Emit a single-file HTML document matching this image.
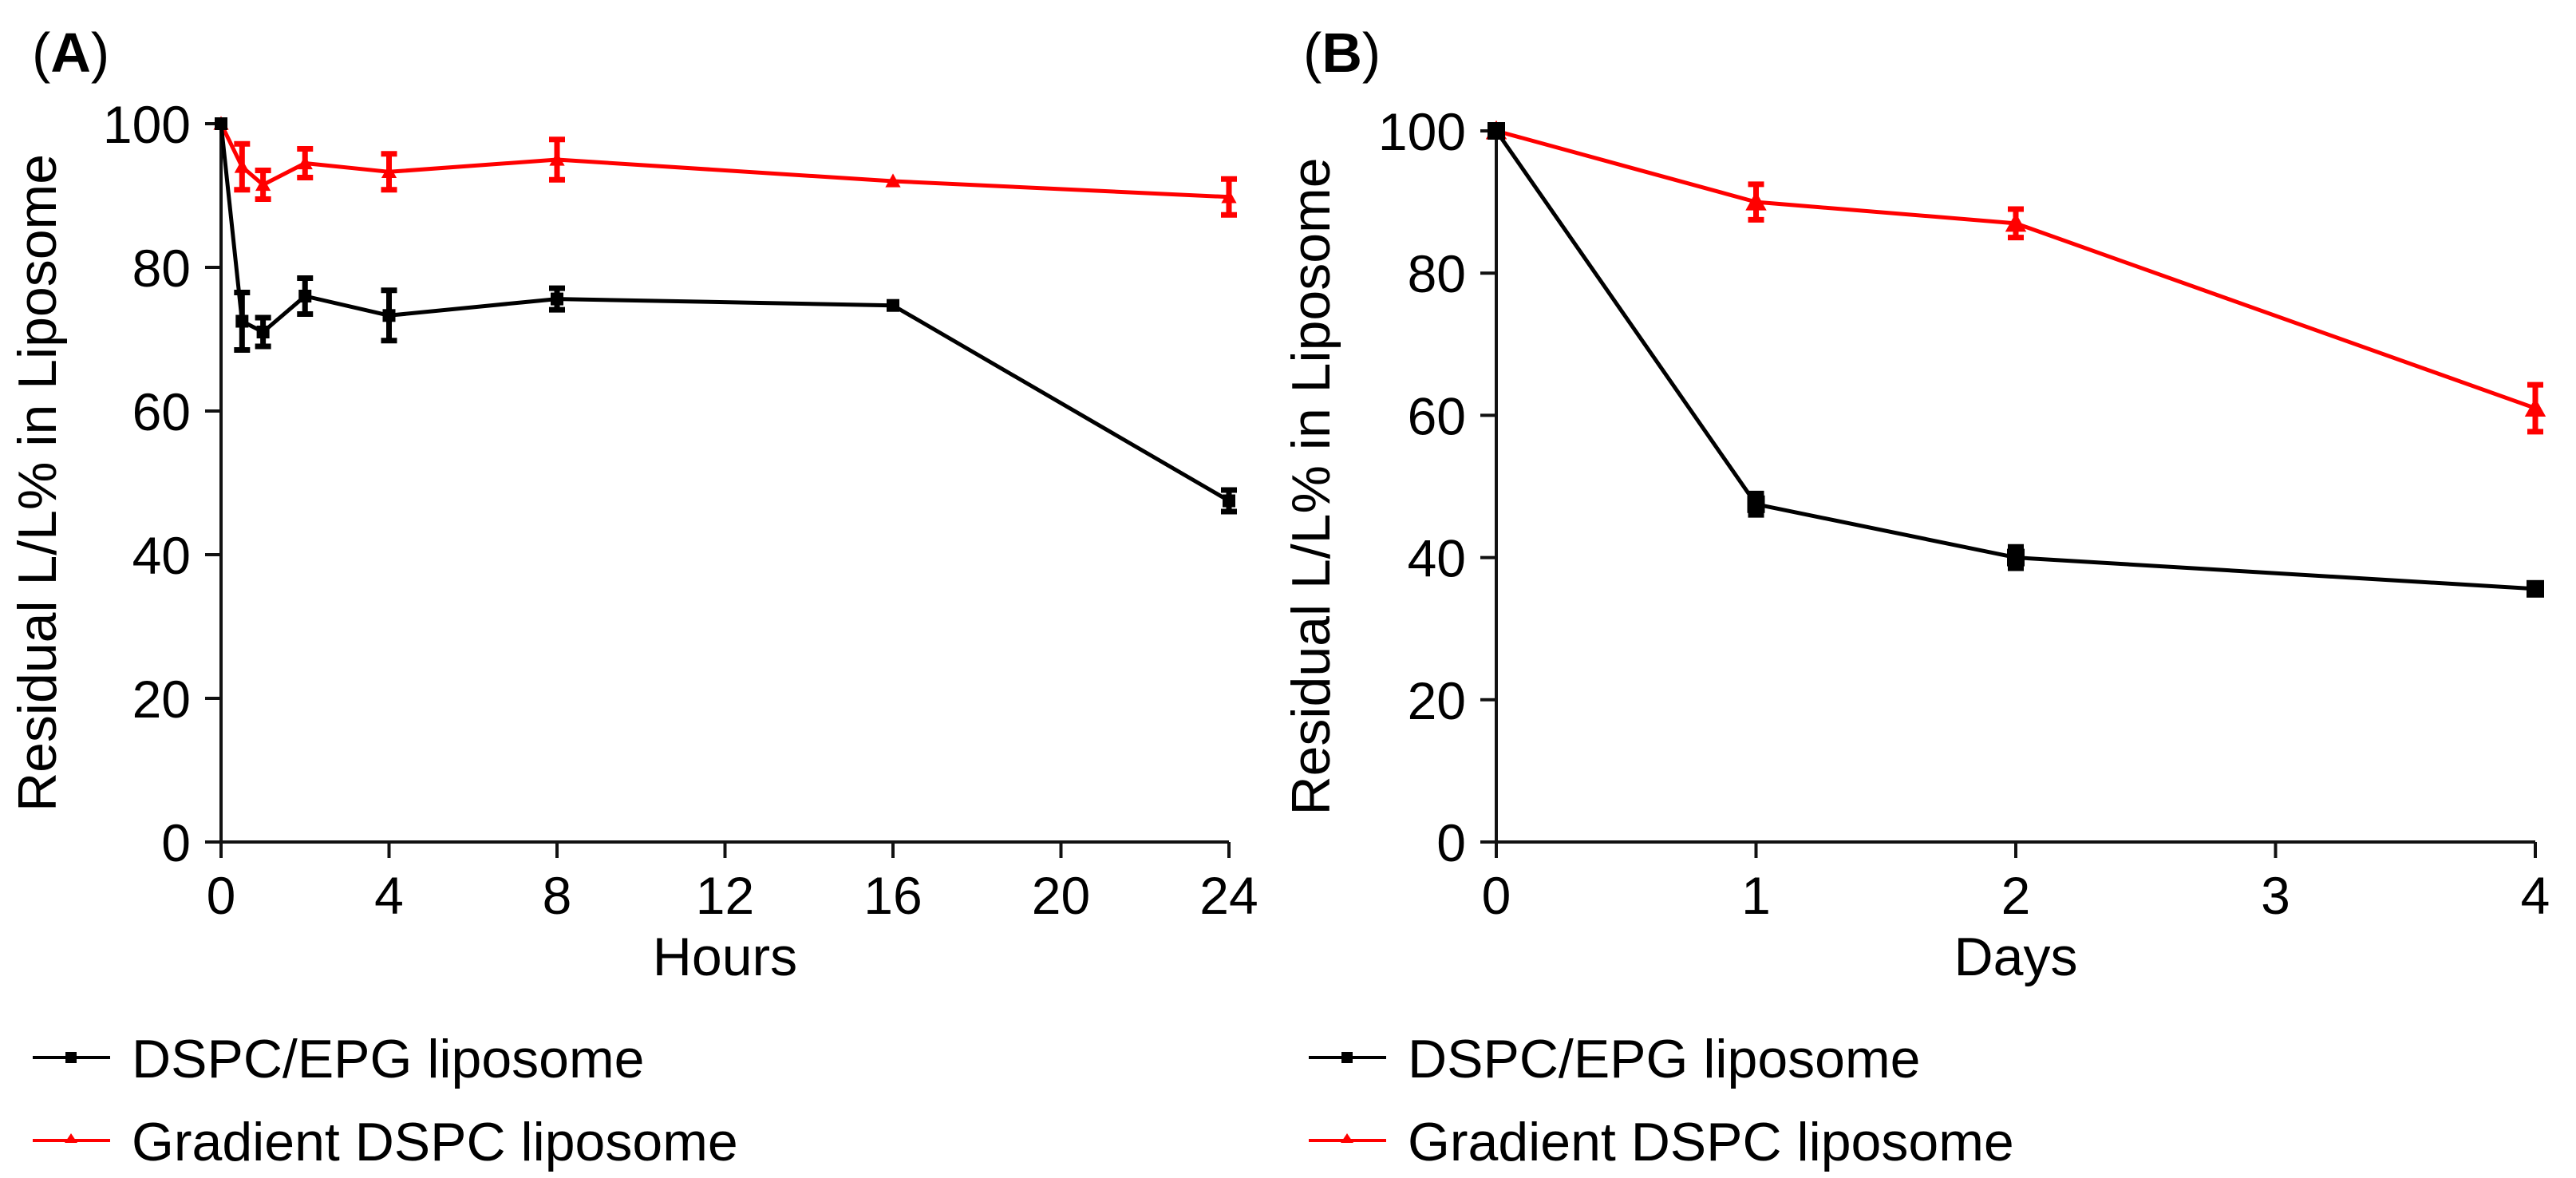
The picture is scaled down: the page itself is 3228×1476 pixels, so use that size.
<!DOCTYPE html>
<html><head><meta charset="utf-8"><style>
html,body{margin:0;padding:0;background:#fff;}
svg{display:block;font-family:"Liberation Sans",Arial,sans-serif;}
</style></head><body>
<svg id="fig" width="3228" height="1476" viewBox="0 0 3228 1476" xmlns="http://www.w3.org/2000/svg"></svg>
<script>
// Panel A data (hours)
const hoursA = [0, 0.5, 1, 2, 4, 8, 16, 24];
const blackA = [100, 72.5, 71, 76, 73.3, 75.6, 74.7, 47.5];
const blackErrA = [0, 4, 2, 2.5, 3.5, 1.5, 0.3, 1.5];
const redA = [100, 94, 91.5, 94.5, 93.3, 95, 92, 89.8];
const redErrA = [0, 3.2, 2, 2, 2.5, 2.8, 0, 2.5];
const xTicksA = [0, 4, 8, 12, 16, 20, 24];
// Panel B data (days)
const daysB = [0, 1, 2, 4];
const blackB = [100, 47.5, 40, 35.6];
const blackErrB = [0, 1.5, 1.5, 0.5];
const redB = [100, 90, 87, 61];
const redErrB = [0, 2.5, 2, 3.3];
const xTicksB = [0, 1, 2, 3, 4];
const yTicks = [0, 20, 40, 60, 80, 100];

const NS = "http://www.w3.org/2000/svg";
const svg = document.getElementById('fig');
function mk(tag, attrs, parent, text) {
  const e = document.createElementNS(NS, tag);
  for (const k in attrs) e.setAttribute(k, attrs[k]);
  if (text !== undefined) e.textContent = text;
  (parent || svg).appendChild(e);
  return e;
}

function panel(cfg) {
  const g = mk('g', {});
  
  
  const X = v => cfg.x0 + (v - cfg.xmin) / (cfg.xmax - cfg.xmin) * (cfg.x1 - cfg.x0);
  const Y = v => cfg.y0 - v / 100 * (cfg.y0 - cfg.y1);

  const lab = mk('text', {x: cfg.labX, y: 90, 'font-size': 70}, g);
  
  
  mk('tspan', {}, lab, '(');
  mk('tspan', {'font-weight': 'bold'}, lab, cfg.letter);
  mk('tspan', {}, lab, ')');

  const ax = mk('path', {d: `M${cfg.x0},${cfg.y1 - 4} L${cfg.x0},${cfg.y0} L${cfg.x1},${cfg.y0}`, stroke: '#111', 'stroke-width': 4, fill: 'none'}, g);
  
  

  yTicks.forEach(t => {
    const y = Y(t);
    const tk = mk('line', {x1: cfg.x0 - 20, x2: cfg.x0, y1: y, y2: y, stroke: '#111', 'stroke-width': 4}, g);
    
    
    const tl = mk('text', {x: cfg.x0 - 38, y: y + 24, 'font-size': 66, 'text-anchor': 'end'}, g, String(t));
    
    
  });
  cfg.xticks.forEach(t => {
    const x = X(t);
    const tk = mk('line', {x1: x, x2: x, y1: cfg.y0, y2: cfg.y0 + 20, stroke: '#111', 'stroke-width': 4}, g);
    
    
    const tl = mk('text', {x: x, y: 1145, 'font-size': 66, 'text-anchor': 'middle'}, g, String(t));
    
    
  });
  const xt = mk('text', {x: (cfg.x0 + cfg.x1) / 2, y: 1222, 'font-size': 68, 'text-anchor': 'middle'}, g, cfg.xtitle);
  
  
  const yt = mk('text', {x: 0, y: 0, 'font-size': 68, 'text-anchor': 'middle', transform: `translate(${cfg.ytX},${(cfg.y0 + cfg.y1) / 2}) rotate(-90)`}, g, 'Residual L/L% in Liposome');
  
  

  function series(xs, ys, errs, color, marker, name) {
    const sg = mk('g', {}, g);
    
    
    const pts = xs.map((x, i) => `${X(x)},${Y(ys[i])}`).join(' ');
    mk('polyline', {points: pts, fill: 'none', stroke: color, 'stroke-width': 5, 'stroke-linejoin': 'round'}, sg);
    xs.forEach((x, i) => {
      const cx = X(x), cy = Y(ys[i]);
      if (errs[i] > 0.6) {
        const yt2 = Y(ys[i] + errs[i]), yb = Y(ys[i] - errs[i]);
        const eb = mk('path', {d: `M${cx},${yt2} L${cx},${yb} M${cx - 10},${yt2} L${cx + 10},${yt2} M${cx - 10},${yb} L${cx + 10},${yb}`, stroke: color, 'stroke-width': 7, fill: 'none'}, sg);
        
        
      }
      let m;
      if (marker === 'square') {
        m = mk('rect', {x: cx - cfg.ms / 2, y: cy - cfg.ms / 2, width: cfg.ms, height: cfg.ms, fill: color}, sg);
      } else {
        const s = cfg.ms * 0.6;
        m = mk('polygon', {points: `${cx},${cy - s} ${cx - s},${cy + s * 0.8} ${cx + s},${cy + s * 0.8}`, fill: color}, sg);
      }
      
      
    });
  }
  series(cfg.xs, cfg.red, cfg.redErr, '#ff0000', 'tri', 'gradient-dspc-series');
  series(cfg.xs, cfg.black, cfg.blackErr, '#000', 'square', 'dspc-epg-series');

  const lg = mk('g', {}, g);
  
  
  [['#000', 'square', 'DSPC/EPG liposome', 1325], ['#ff0000', 'tri', 'Gradient DSPC liposome', 1429]].forEach(([c, mkr, txt, y]) => {
    const eg = mk('g', {}, lg);
    
    
    mk('line', {x1: cfg.legX, x2: cfg.legX + 97, y1: y, y2: y, stroke: c, 'stroke-width': 4}, eg);
    const mx = cfg.legX + 48;
    if (mkr === 'square') mk('rect', {x: mx - 7, y: y - 7, width: 14, height: 14, fill: c}, eg);
    else mk('polygon', {points: `${mx},${y - 9} ${mx - 8},${y + 3} ${mx + 8},${y + 3}`, fill: c}, eg);
    mk('text', {x: cfg.legX + 124, y: y + 25, 'font-size': 68}, eg, txt);
  });
}

panel({name: 'panel-a-hours', letter: 'A', labX: 40, x0: 277, x1: 1540, xmin: 0, xmax: 24, y0: 1055, y1: 155,
  xticks: xTicksA, xtitle: 'Hours', ytX: 70, xs: hoursA, black: blackA, blackErr: blackErrA, red: redA, redErr: redErrA, ms: 16, legX: 41});
panel({name: 'panel-b-days', letter: 'B', labX: 1633, x0: 1875, x1: 3177, xmin: 0, xmax: 4, y0: 1055, y1: 164,
  xticks: xTicksB, xtitle: 'Days', ytX: 1666, xs: daysB, black: blackB, blackErr: blackErrB, red: redB, redErr: redErrB, ms: 22, legX: 1640});
</script>
</body></html>
